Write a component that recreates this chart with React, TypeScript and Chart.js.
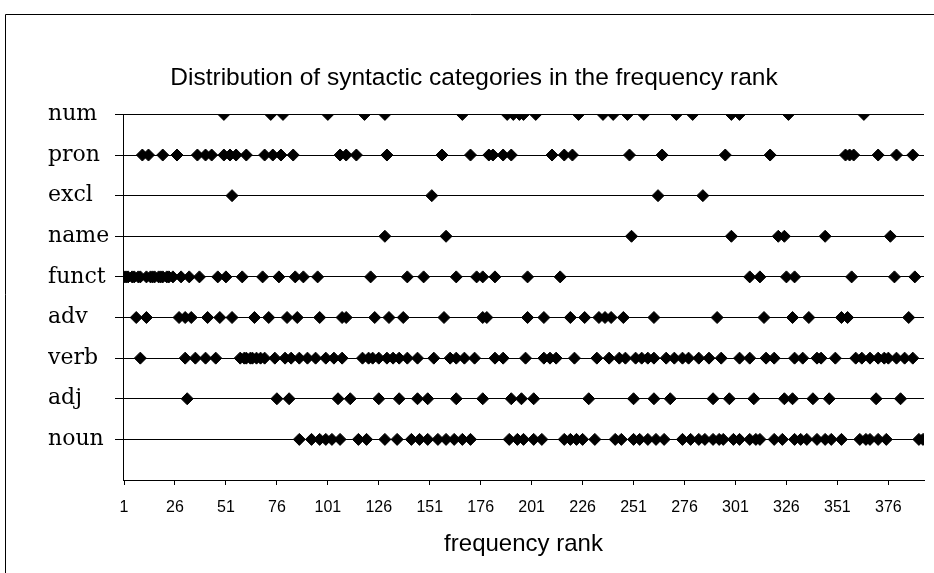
import { useEffect, useRef } from 'react';
import { Chart, registerables } from 'chart.js';

Chart.register(...registerables);

// categories from bottom (y = 1) to top (y = 9)
const categories = ['noun', 'adj', 'verb', 'adv', 'funct', 'name', 'excl', 'pron', 'num'];

const nounRanks = [87, 93, 97, 100, 103, 107, 116, 120, 129, 135, 142, 146, 150, 155, 159, 163, 167, 171, 190, 194, 197, 202, 206, 217, 220, 223, 226, 232, 242, 245, 251, 254, 258, 262, 266, 275, 279, 283, 286, 290, 293, 295, 300, 303, 308, 311, 313, 320, 324, 330, 333, 336, 341, 345, 348, 353, 362, 365, 367, 371, 375, 391, 393];
const adjRanks = [32, 76, 82, 106, 112, 126, 136, 145, 150, 164, 177, 191, 196, 202, 229, 251, 261, 269, 290, 298, 310, 325, 329, 339, 347, 370, 382];
const verbRanks = [9, 31, 36, 41, 46, 58, 60, 61, 63, 64, 66, 68, 70, 75, 80, 83, 87, 91, 95, 100, 104, 108, 118, 121, 123, 126, 130, 133, 136, 140, 145, 153, 161, 164, 168, 173, 183, 187, 198, 207, 210, 213, 222, 233, 239, 244, 247, 252, 255, 258, 261, 267, 271, 275, 278, 283, 288, 294, 303, 308, 316, 320, 330, 334, 341, 343, 350, 360, 363, 367, 371, 374, 376, 380, 384, 388];
const advRanks = [7, 12, 28, 31, 34, 42, 48, 54, 65, 72, 81, 86, 97, 108, 110, 124, 131, 138, 158, 177, 179, 199, 207, 220, 227, 234, 237, 240, 246, 261, 292, 315, 329, 337, 353, 356, 386];
const functRanks = [1, 2, 3, 5, 6, 8, 9, 12, 14, 15, 16, 18, 19, 20, 22, 23, 25, 29, 33, 38, 47, 51, 59, 69, 77, 85, 89, 96, 122, 140, 148, 164, 174, 177, 183, 199, 215, 308, 313, 326, 330, 358, 379, 389];
const nameRanks = [129, 159, 250, 299, 322, 325, 345, 377];
const exclRanks = [54, 152, 263, 285];
const pronRanks = [10, 13, 20, 27, 37, 41, 44, 50, 53, 56, 61, 70, 74, 78, 84, 107, 110, 115, 130, 157, 171, 180, 182, 187, 191, 211, 217, 221, 249, 265, 296, 318, 355, 357, 359, 371, 380, 388];
const numRanks = [50, 73, 79, 101, 119, 129, 167, 189, 192, 195, 197, 203, 224, 236, 241, 248, 256, 272, 280, 299, 303, 327, 364];

const xTickLabels = [1, 26, 51, 76, 101, 126, 151, 176, 201, 226, 251, 276, 301, 326, 351, 376];
const rankMin = 1;
const rankMax = 393;

const chartTitle = 'Distribution of syntactic categories in the frequency rank';
const xAxisTitle = 'frequency rank';

const sansFamily = '"Liberation Sans", Arial, sans-serif';
const serifFamily = '"DejaVu Serif", "Liberation Serif", serif';

const framePlugin = {
  id: 'frame',
  beforeDraw(chart: any) {
    const ctx = chart.ctx;
    ctx.save();
    ctx.fillStyle = '#fff';
    ctx.fillRect(0, 0, chart.width, chart.height);
    ctx.strokeStyle = '#000';
    ctx.lineWidth = 1;
    ctx.beginPath();
    ctx.moveTo(5.5, chart.height + 2);
    ctx.lineTo(5.5, 14.5);
    ctx.lineTo(chart.width + 2, 14.5);
    ctx.stroke();
    ctx.restore();
  },
};

// keep the category labels starting at x = 48 while the title is centred on the whole frame
const labelShiftPlugin = {
  id: 'labelShift',
  afterLayout(chart: any) {
    const y = chart.scales.y;
    if (y) y.left = 48;
  },
};

export default function App() {
  const ref = useRef<HTMLCanvasElement>(null);

  useEffect(() => {
    const series = [nounRanks, adjRanks, verbRanks, advRanks, functRanks, nameRanks, exclRanks, pronRanks, numRanks];
    const chart = new Chart(ref.current as HTMLCanvasElement, {
      type: 'scatter',
      data: {
        datasets: categories.map((c, i) => ({
          label: c,
          data: series[i].map((r) => ({ x: r, y: i + 1 })),
          pointStyle: 'rectRot',
          pointRadius: 6,
          pointHoverRadius: 6,
          backgroundColor: '#000',
          borderColor: '#000',
          borderWidth: 1,
          showLine: false,
        })),
      },
      options: {
        animation: false,
        responsive: false,
        events: [],
        layout: { padding: { left: 24, right: 10, top: 64, bottom: 0 } },
        plugins: {
          legend: { display: false },
          tooltip: { enabled: false },
          title: {
            display: true,
            text: chartTitle,
            color: '#000',
            font: { family: sansFamily, size: 24.5, weight: 'normal', lineHeight: 1.2 },
            padding: { top: 0, bottom: 21 },
          },
        },
        scales: {
          x: {
            type: 'linear',
            min: rankMin - 0.5,
            max: rankMax + 0.5,
            afterBuildTicks: (s: any) => {
              s.ticks = xTickLabels.map((v) => ({ value: v }));
            },
            afterFit: (s: any) => {
              s.height = 93;
            },
            grid: { drawOnChartArea: false, drawTicks: true, tickLength: 5, color: '#000' },
            border: { color: '#000', width: 1 },
            ticks: {
              color: '#000',
              padding: 13,
              maxRotation: 0,
              autoSkip: false,
              font: { family: sansFamily, size: 16, lineHeight: 1.2 },
              callback: (v: any) => String(v),
            },
            title: {
              display: true,
              text: xAxisTitle,
              color: '#000',
              font: { family: sansFamily, size: 24, lineHeight: 1.2 },
              padding: { top: 0, bottom: 14 },
            },
          },
          y: {
            type: 'linear',
            min: 0,
            max: categories.length,
            afterBuildTicks: (s: any) => {
              s.ticks = categories.map((_, i) => ({ value: i + 1 }));
            },
            afterFit: (s: any) => {
              s.width = 99;
            },
            grid: { drawOnChartArea: true, drawTicks: true, tickLength: 8, color: '#000' },
            border: { color: '#000', width: 1 },
            ticks: {
              color: '#000',
              crossAlign: 'far',
              autoSkip: false,
              font: { family: serifFamily, size: 22 },
              callback: (v: any) => categories[Number(v) - 1] ?? '',
            },
          },
        },
      },
      plugins: [framePlugin, labelShiftPlugin],
    } as any);
    return () => chart.destroy();
  }, []);

  return (
    <div style={{ position: 'absolute', left: 0, top: 0, width: 934, height: 573, background: '#fff' }}>
      <canvas ref={ref} width={934} height={573} style={{ display: 'block', width: 934, height: 573 }} />
    </div>
  );
}
